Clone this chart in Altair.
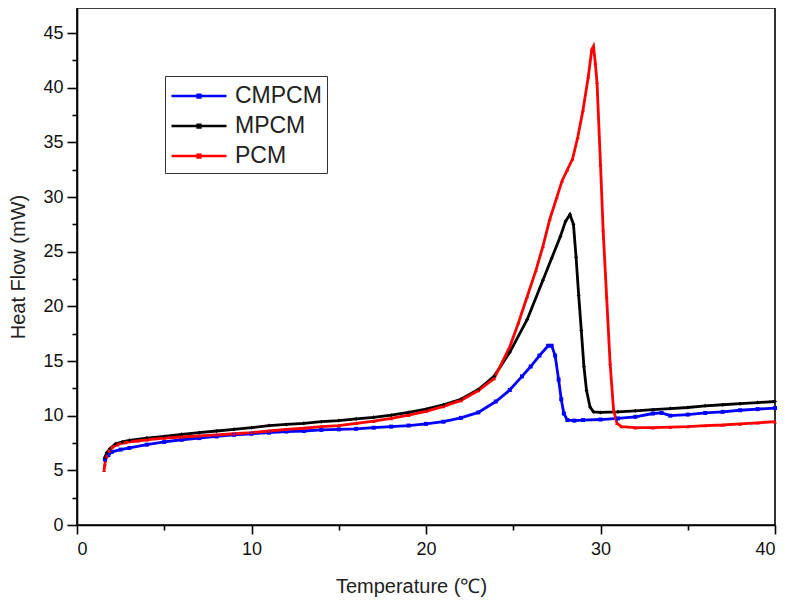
import altair as alt
import pandas as pd

series_names = ["CMPCM", "MPCM", "PCM"]
series_colors = ["#0000ff", "#000000", "#ff0000"]
series_shapes = ["square", "diamond", "triangle-up"]

cmpcm_t = [1.6, 1.8, 2.0, 2.5, 3.0, 4.0, 5.0, 6.0, 7.0, 8.0, 9.0, 10.0, 11.0, 12.0,
           13.0, 14.0, 15.0, 16.0, 17.0, 18.0, 19.0, 20.0, 21.0, 22.0, 23.0, 24.0,
           24.8, 25.5, 26.0, 26.5, 27.0, 27.2, 27.4, 27.6, 27.75, 27.9, 28.1, 28.5,
           29.0, 30.0, 31.0, 32.0, 33.0, 33.5, 34.0, 35.0, 36.0, 37.0, 38.0, 39.0, 40.0]
cmpcm_h = [6.0, 6.4, 6.7, 6.9, 7.05, 7.35, 7.6, 7.8, 7.95, 8.1, 8.25, 8.35, 8.45, 8.55,
           8.6, 8.7, 8.75, 8.8, 8.9, 9.0, 9.1, 9.25, 9.45, 9.8, 10.3, 11.3,
           12.35, 13.6, 14.5, 15.5, 16.4, 16.4, 15.5, 13.3, 11.5, 10.2, 9.6, 9.55,
           9.6, 9.65, 9.75, 9.9, 10.2, 10.25, 10.0, 10.1, 10.25, 10.35, 10.5, 10.6, 10.7]

mpcm_t = [1.6, 1.7, 1.9, 2.2, 2.6, 3.0, 4.0, 5.0, 6.0, 7.0, 8.0, 9.0, 10.0, 11.0,
          12.0, 13.0, 14.0, 15.0, 16.0, 17.0, 18.0, 19.0, 20.0, 21.0, 22.0, 23.0,
          23.9, 24.8, 25.8, 26.7, 27.2, 27.7, 28.0, 28.25, 28.45, 28.6, 28.75, 28.9,
          29.05, 29.2, 29.4, 29.6, 30.0, 31.0, 32.0, 33.0, 34.0, 35.0, 36.0, 37.0,
          38.0, 39.0, 40.0]
mpcm_h = [6.2, 6.6, 7.0, 7.4, 7.6, 7.75, 7.95, 8.1, 8.3, 8.45, 8.6, 8.75, 8.9, 9.1,
          9.2, 9.3, 9.45, 9.55, 9.7, 9.85, 10.05, 10.3, 10.6, 11.0, 11.5, 12.4,
          13.6, 15.8, 18.8, 22.4, 24.4, 26.4, 27.8, 28.4, 27.5, 24.5, 21.0, 17.8,
          14.5, 12.3, 10.8, 10.35, 10.3, 10.35, 10.45, 10.55, 10.65, 10.75, 10.9, 11.0,
          11.1, 11.2, 11.3]

pcm_t = [1.55, 1.6, 1.7, 1.85, 2.0, 2.3, 2.8, 3.5, 4.0, 5.0, 6.0, 7.0, 8.0, 9.0,
         10.0, 11.0, 12.0, 13.0, 14.0, 15.0, 16.0, 17.0, 18.0, 19.0, 20.0, 21.0,
         22.0, 23.0, 23.9, 24.8, 25.3, 25.8, 26.3, 26.7, 27.1, 27.5, 27.8, 28.1,
         28.4, 28.7, 29.0, 29.3, 29.5, 29.6, 29.7, 29.8, 30.0, 30.15, 30.35, 30.55,
         30.75, 30.95, 31.2, 32.0, 33.0, 34.0, 35.0, 36.0, 37.0, 38.0, 39.0, 40.0]
pcm_h = [5.0, 5.6, 6.3, 6.8, 7.1, 7.35, 7.55, 7.7, 7.8, 7.95, 8.05, 8.15, 8.25, 8.35,
         8.45, 8.6, 8.75, 8.85, 9.0, 9.1, 9.3, 9.5, 9.75, 10.05, 10.4, 10.85,
         11.4, 12.3, 13.4, 16.3, 18.5, 20.9, 23.3, 25.5, 28.0, 30.0, 31.5, 32.5,
         33.5, 35.5, 38.0, 41.0, 43.5, 43.8, 42.3, 40.5, 33.0, 27.0, 20.9, 14.8,
         10.5, 9.3, 9.0, 8.9, 8.9, 8.95, 9.0, 9.1, 9.15, 9.25, 9.35, 9.45]

x_ticks = [0, 5, 10, 15, 20, 25, 30, 35, 40]
y_ticks = [0, 2.5, 5, 7.5, 10, 12.5, 15, 17.5, 20, 22.5, 25, 27.5, 30, 32.5, 35,
           37.5, 40, 42.5, 45]

rows = []
for name, ts, hs in [("CMPCM", cmpcm_t, cmpcm_h), ("MPCM", mpcm_t, mpcm_h), ("PCM", pcm_t, pcm_h)]:
    for i, (t, h) in enumerate(zip(ts, hs)):
        rows.append({"series": name, "T": t, "H": h, "idx": i})
df = pd.DataFrame(rows)

FONT = "Liberation Sans"

x_enc = alt.X(
    "T:Q",
    scale=alt.Scale(domain=[0, 40], nice=False, zero=False),
    axis=alt.Axis(
        values=x_ticks,
        title="Temperature (℃)",
        labelExpr="datum.value % 10 === 0 ? datum.label : ''",
        tickSize={"condition": {"test": "datum.value % 10 === 0", "value": 9}, "value": 5},
        grid=False,
        labelFontSize=18,
        titleFontSize=20,
        labelPadding=6,
        titlePadding=18,
        titleX=334,
    ),
)
y_enc = alt.Y(
    "H:Q",
    scale=alt.Scale(domain=[0, 47.3], nice=False),
    axis=alt.Axis(
        values=y_ticks,
        title="Heat Flow (mW)",
        labelExpr="datum.value % 5 === 0 ? datum.label : ''",
        tickSize={"condition": {"test": "datum.value % 5 === 0", "value": 10}, "value": 5},
        grid=False,
        labelFontSize=18,
        titleFontSize=20,
        labelPadding=4,
        titlePadding=14,
    ),
)

legend = alt.Legend(
    title=None,
    orient="none",
    legendX=88,
    legendY=68,
    symbolType="M-2,0L2,0M-0.1,-0.1L0.1,-0.1L0.1,0.1L-0.1,0.1Z",
    symbolSize=756,
    symbolStrokeWidth=2.5,
    symbolOffset=14,
    labelOffset=21,
    labelFontSize=23,
    labelFont=FONT,
    labelColor="#222222",
    strokeColor="#333333",
    fillColor="white",
    padding=5,
    rowPadding=3,
)

color_scale = alt.Scale(domain=series_names, range=series_colors)

lines = alt.Chart(df).mark_line(strokeWidth=2.8).encode(
    x=x_enc, y=y_enc,
    color=alt.Color("series:N", scale=color_scale, legend=legend, sort=series_names),
    order="idx:Q",
)

point_layers = []
for name, shp in zip(series_names, series_shapes):
    point_layers.append(
        alt.Chart(df).transform_filter(alt.datum.series == name)
        .mark_point(filled=True, size=16, opacity=1, shape=shp)
        .encode(
            x=x_enc, y=y_enc,
            color=alt.Color("series:N", scale=color_scale, legend=None, sort=series_names),
        )
    )

chart = alt.layer(lines, *point_layers).properties(
    width=698,
    height=517,
    padding={"left": 69, "top": 0, "right": 4, "bottom": 85},
    autosize=alt.AutoSizeParams(type="none"),
).configure_view(
    stroke="black", strokeWidth=1.6
).configure_axis(
    domainColor="black", domainWidth=1.6, tickColor="black", tickWidth=1.6,
    labelFont=FONT, titleFont=FONT, labelColor="#111111", titleColor="#222222",
    titleFontWeight="normal",
)

chart.save("out.html", embed_options={"renderer": "svg", "actions": False})
